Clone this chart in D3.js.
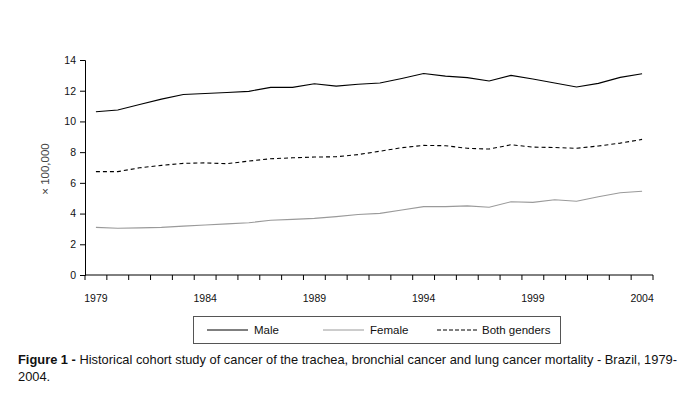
<!DOCTYPE html>
<html>
<head>
<meta charset="utf-8">
<script src="https://cdn.jsdelivr.net/npm/d3@7"></script>
<style>
  body { margin: 0; background: #fff; }
  text { font-family: "Liberation Sans", Arial, sans-serif; }
</style>
</head>
<body>
<svg id="chart" width="687" height="396"></svg>
<script>
// Data (rate x 100,000)
const years = d3.range(1979, 2005);
const male = [10.63, 10.74, 11.1, 11.45, 11.75, 11.82, 11.88, 11.96, 12.22, 12.22, 12.45, 12.3, 12.42,
              12.5, 12.8, 13.12, 12.95, 12.85, 12.63, 13.0, 12.76, 12.5, 12.24, 12.48, 12.87, 13.1];
const female = [3.1, 3.04, 3.07, 3.1, 3.18, 3.26, 3.33, 3.4, 3.57, 3.62, 3.69, 3.8, 3.94,
                4.01, 4.23, 4.45, 4.45, 4.5, 4.41, 4.77, 4.73, 4.9, 4.8, 5.1, 5.36, 5.45];
const both = [6.73, 6.73, 6.98, 7.14, 7.27, 7.3, 7.25, 7.42, 7.57, 7.63, 7.68, 7.7, 7.84,
              8.06, 8.29, 8.44, 8.42, 8.25, 8.2, 8.48, 8.33, 8.3, 8.25, 8.4, 8.59, 8.83];
const yTicks = [0, 2, 4, 6, 8, 10, 12, 14];
const yearLabels = [1979, 1984, 1989, 1994, 1999, 2004];

const series = [
  { name: "Male", values: male, color: "#000", dash: null },
  { name: "Female", values: female, color: "#9a9a9a", dash: null },
  { name: "Both genders", values: both, color: "#000", dash: "4,3" }
];

const svg = d3.select("#chart");

// plot area
const x = d3.scaleBand().domain(years).range([85, 653]);
const y = d3.scaleLinear().domain([0, 14]).range([275, 60]);

// y axis
const yAxis = svg.append("g")
  .attr("transform", "translate(85,0)")
  .call(d3.axisLeft(y).tickValues(yTicks).tickSize(5).tickPadding(4));
yAxis.select(".domain").attr("stroke", "#000");
yAxis.selectAll(".tick text").attr("font-size", 10.5).attr("fill", "#111");

// x axis - ticks sit between categories, like the old spreadsheet chart
const xAxis = svg.append("g").attr("transform", "translate(0,275)");
xAxis.append("line")
  .attr("x1", 85).attr("x2", 653)
  .attr("stroke", "#000");
xAxis.selectAll("line.tk")
  .data(years.concat([2005]))
  .join("line")
  .attr("class", "tk")
  .attr("x1", d => d === 2005 ? 653 : x(d))
  .attr("x2", d => d === 2005 ? 653 : x(d))
  .attr("y1", 0).attr("y2", 5)
  .attr("stroke", "#000");
xAxis.selectAll("text")
  .data(yearLabels)
  .join("text")
  .attr("x", d => x(d) + x.bandwidth() / 2)
  .attr("y", 27)
  .attr("text-anchor", "middle")
  .attr("font-size", 10.5)
  .attr("fill", "#111")
  .text(d => d);

// axis title
svg.append("text")
  .attr("transform", "translate(49,169) rotate(-90)")
  .attr("text-anchor", "middle")
  .attr("font-size", 11.5)
  .attr("fill", "#444")
  .text("\u00d7 100,000");

// lines
const line = d3.line()
  .x((d, i) => x(years[i]) + x.bandwidth() / 2)
  .y(d => y(d));

svg.selectAll("path.series")
  .data(series)
  .join("path")
  .attr("class", "series")
  .attr("d", d => line(d.values))
  .attr("fill", "none")
  .attr("stroke", d => d.color)
  .attr("stroke-width", 1.1)
  .attr("stroke-dasharray", d => d.dash);

// legend
const legend = svg.append("g");
legend.append("rect")
  .attr("x", 193.5).attr("y", 316.5)
  .attr("width", 367).attr("height", 27)
  .attr("fill", "none").attr("stroke", "#555");

const legendX = [207, 323, 437];
const items = legend.selectAll("g.item")
  .data(series)
  .join("g")
  .attr("class", "item")
  .attr("transform", (d, i) => `translate(${legendX[i]},330)`);
items.append("line")
  .attr("x1", 0).attr("x2", 41)
  .attr("stroke", d => d.color)
  .attr("stroke-dasharray", d => d.dash ? "4,2" : null);
items.append("text")
  .attr("x", (d, i) => i === 2 ? 45 : 47)
  .attr("y", 4)
  .attr("font-size", 11.5)
  .attr("fill", "#111")
  .text(d => d.name);

// caption
const caption = svg.append("text")
  .attr("x", 18).attr("y", 364)
  .attr("font-size", 12)
  .attr("fill", "#111");
caption.append("tspan").attr("font-weight", "bold").text("Figure 1 -");
caption.append("tspan").text(" Historical cohort study of cancer of the trachea, bronchial cancer and lung cancer mortality - Brazil, 1979-");
// fit first line to the width used in the figure
const w = caption.node().getComputedTextLength();
const fs = 12 * 660 / w;
caption.attr("font-size", fs);
svg.append("text")
  .attr("x", 18).attr("y", 381)
  .attr("font-size", fs)
  .attr("fill", "#111")
  .text("2004.");
</script>
</body>
</html>
